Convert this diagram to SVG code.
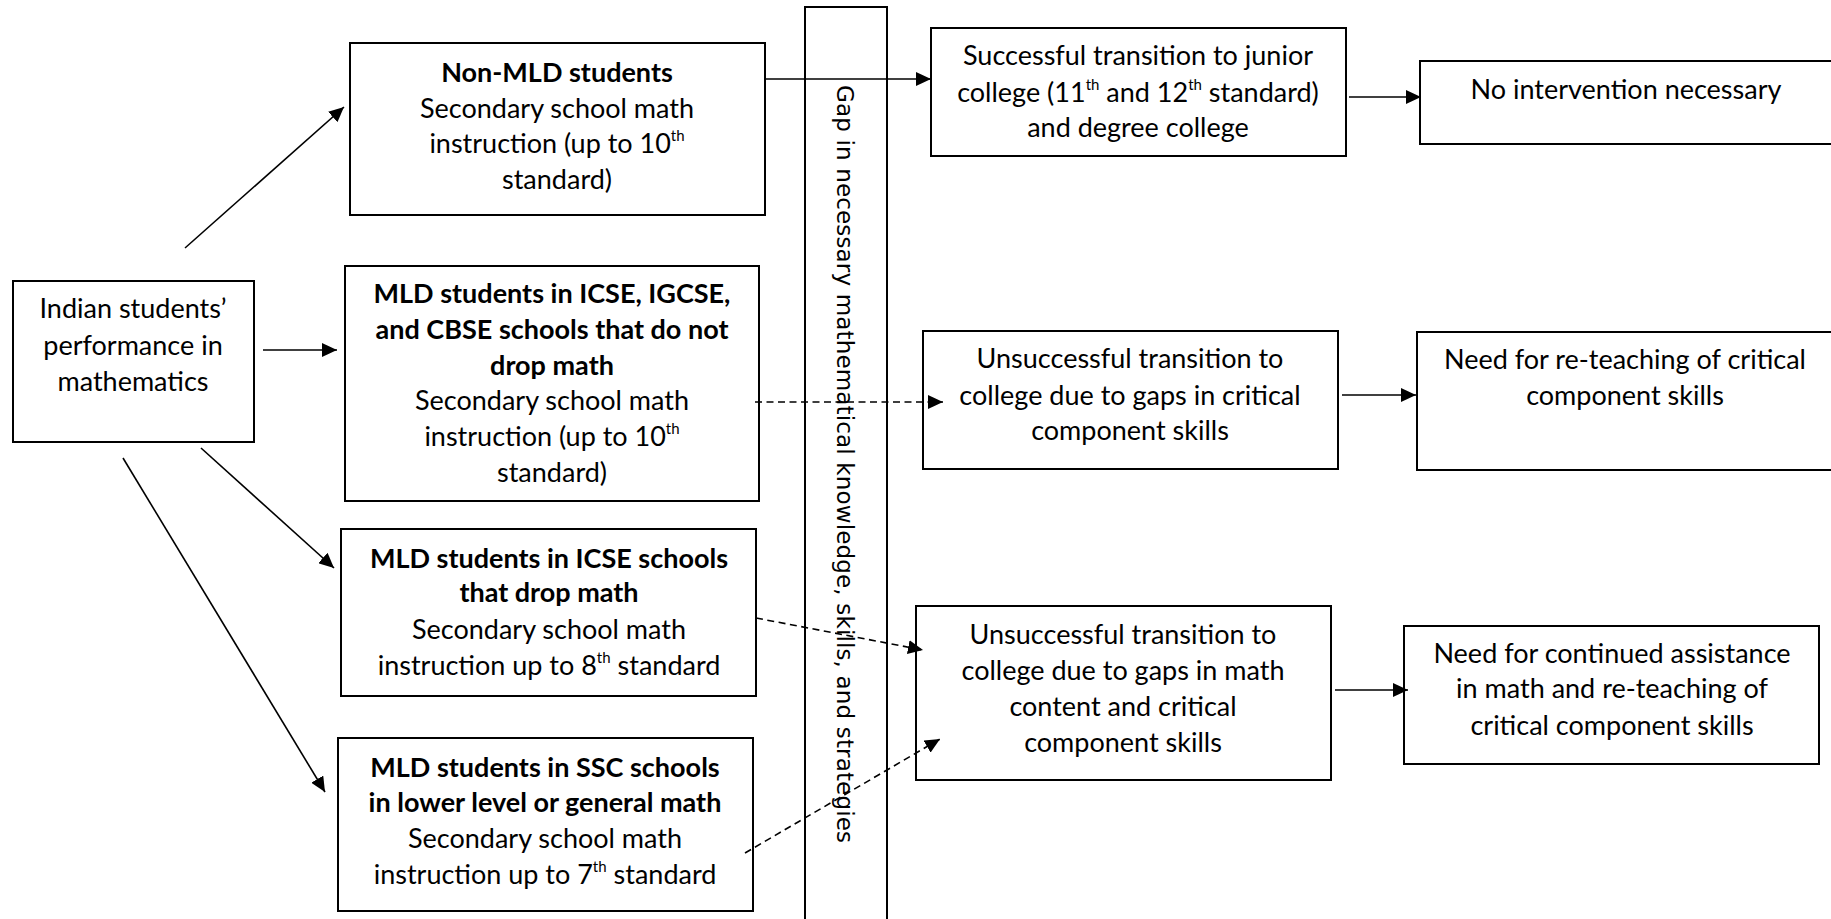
<svg xmlns="http://www.w3.org/2000/svg" width="1831" height="919" viewBox="0 0 1831 919">
  <defs>
    <marker id="arrow" markerUnits="userSpaceOnUse" markerWidth="16" markerHeight="14" refX="15" refY="7" orient="auto">
      <path d="M0,0 L15,7 L0,14 Z" fill="#000"/>
    </marker>
    <style>
      .box { fill: #fff; stroke: #000; stroke-width: 2; }
      .lbl { font-family: Lato, "Liberation Sans", sans-serif; font-size: 27px; fill: #000; text-anchor: middle; }
      .b { font-weight: bold; }
      .sup { font-size: 15px; }
      .con { fill: none; stroke: #000; stroke-width: 1.6; marker-end: url(#arrow); }
      .dash { stroke-dasharray: 7 4.5; }
      .bar-text { font-family: "DejaVu Sans", sans-serif; font-size: 23px; fill: #000; }
    </style>
  </defs>

  <rect width="1831" height="919" fill="#fff"/>

  <!-- vertical gap band -->
  <g id="gap-band">
    <rect class="box" x="805" y="7" width="82" height="930"/>
    <text class="bar-text" transform="translate(837,85) rotate(90)" textLength="758" lengthAdjust="spacing">Gap in necessary mathematical knowledge, skills, and strategies</text>
  </g>

  <!-- nodes -->
  <g id="indian-students">
    <rect class="box" x="13" y="281" width="241" height="161"/>
    <text class="lbl"><tspan x="133" y="318">Indian students’</tspan><tspan x="133" y="355">performance in</tspan><tspan x="133" y="391">mathematics</tspan></text>
  </g>

  <g id="non-mld">
    <rect class="box" x="350" y="43" width="415" height="172"/>
    <text class="lbl"><tspan class="b" x="557" y="82">Non-MLD students</tspan><tspan x="557" y="118">Secondary school math</tspan><tspan x="557" y="153">instruction (up to 10<tspan class="sup" dy="-12">th</tspan></tspan><tspan x="557" y="189">standard)</tspan></text>
  </g>

  <g id="mld-icse-igcse-cbse">
    <rect class="box" x="345" y="266" width="414" height="235"/>
    <text class="lbl"><tspan class="b" x="552" y="303">MLD students in ICSE, IGCSE,</tspan><tspan class="b" x="552" y="339">and CBSE schools that do not</tspan><tspan class="b" x="552" y="375">drop math</tspan><tspan x="552" y="410">Secondary school math</tspan><tspan x="552" y="446">instruction (up to 10<tspan class="sup" dy="-12">th</tspan></tspan><tspan x="552" y="482">standard)</tspan></text>
  </g>

  <g id="mld-icse-drop">
    <rect class="box" x="341" y="529" width="415" height="167"/>
    <text class="lbl"><tspan class="b" x="549" y="568">MLD students in ICSE schools</tspan><tspan class="b" x="549" y="602">that drop math</tspan><tspan x="549" y="639">Secondary school math</tspan><tspan x="549" y="675">instruction up to 8<tspan class="sup" dy="-12">th</tspan><tspan dy="12"> standard</tspan></tspan></text>
  </g>

  <g id="mld-ssc">
    <rect class="box" x="338" y="738" width="415" height="173"/>
    <text class="lbl"><tspan class="b" x="545" y="777">MLD students in SSC schools</tspan><tspan class="b" x="545" y="812">in lower level or general math</tspan><tspan x="545" y="848">Secondary school math</tspan><tspan x="545" y="884">instruction up to 7<tspan class="sup" dy="-12">th</tspan><tspan dy="12"> standard</tspan></tspan></text>
  </g>

  <g id="successful-transition">
    <rect class="box" x="931" y="28" width="415" height="128"/>
    <text class="lbl"><tspan x="1138" y="65">Successful transition to junior</tspan><tspan x="1138" y="102">college (11<tspan class="sup" dy="-12">th</tspan><tspan dy="12"> and 12</tspan><tspan class="sup" dy="-12">th</tspan><tspan dy="12"> standard)</tspan></tspan><tspan x="1138" y="137">and degree college</tspan></text>
  </g>

  <g id="no-intervention">
    <rect class="box" x="1420" y="61" width="420" height="83"/>
    <text class="lbl"><tspan x="1626" y="99">No intervention necessary</tspan></text>
  </g>

  <g id="unsuccessful-critical">
    <rect class="box" x="923" y="331" width="415" height="138"/>
    <text class="lbl"><tspan x="1130" y="368">Unsuccessful transition to</tspan><tspan x="1130" y="405">college due to gaps in critical</tspan><tspan x="1130" y="440">component skills</tspan></text>
  </g>

  <g id="reteaching">
    <rect class="box" x="1417" y="332" width="423" height="138"/>
    <text class="lbl"><tspan x="1625" y="369">Need for re-teaching of critical</tspan><tspan x="1625" y="405">component skills</tspan></text>
  </g>

  <g id="unsuccessful-content">
    <rect class="box" x="916" y="606" width="415" height="174"/>
    <text class="lbl"><tspan x="1123" y="644">Unsuccessful transition to</tspan><tspan x="1123" y="680">college due to gaps in math</tspan><tspan x="1123" y="716">content and critical</tspan><tspan x="1123" y="752">component skills</tspan></text>
  </g>

  <g id="continued-assistance">
    <rect class="box" x="1404" y="626" width="415" height="138"/>
    <text class="lbl"><tspan x="1612" y="663">Need for continued assistance</tspan><tspan x="1612" y="698">in math and re-teaching of</tspan><tspan x="1612" y="735">critical component skills</tspan></text>
  </g>

  <!-- connectors -->
  <g id="connectors">
    <line class="con" x1="765" y1="79" x2="931" y2="79"/>
    <line class="con" x1="1349" y1="97" x2="1421" y2="97"/>
    <line class="con" x1="185" y1="248" x2="344" y2="107"/>
    <line class="con" x1="263" y1="350" x2="337" y2="350"/>
    <line class="con" x1="201" y1="448" x2="334" y2="568"/>
    <line class="con" x1="123" y1="458" x2="325" y2="792"/>
    <line class="con dash" x1="755" y1="402" x2="943" y2="402"/>
    <line class="con" x1="1342" y1="395" x2="1416" y2="395"/>
    <line class="con dash" x1="756" y1="618" x2="923" y2="650"/>
    <line class="con dash" x1="745" y1="853" x2="940" y2="739"/>
    <line class="con" x1="1335" y1="690" x2="1408" y2="690"/>
  </g>
</svg>
